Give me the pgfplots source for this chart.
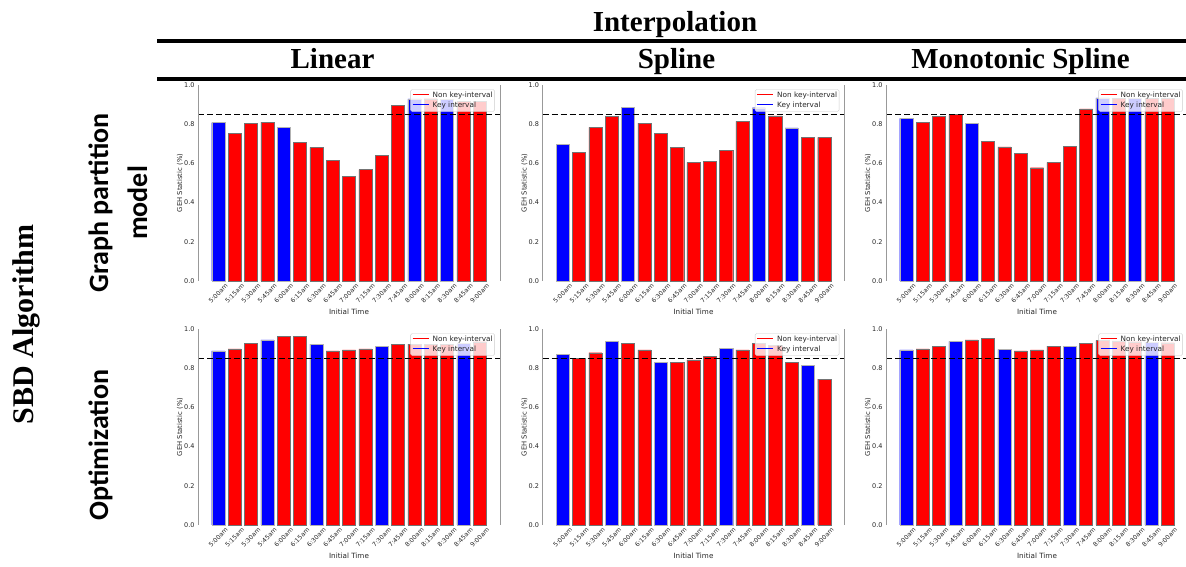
\documentclass[border=0pt]{standalone}
\usepackage{fontspec}
\setmainfont{DejaVu Sans}
\newfontfamily\timesf{Liberation Serif}
\newfontfamily\carlito{Carlito}
\usepackage{pgfplots}
\pgfplotsset{compat=1.18}

\pgfplotsset{
  panel/.style={
    scale only axis, width=302pt, height=196pt,
    xmin=-1.24, xmax=17.24, ymin=0, ymax=1,
    axis line style={draw=none},
    major tick length=0pt,
    xtick={0,1,2,3,4,5,6,7,8,9,10,11,12,13,14,15,16},
    xticklabels={5:00am,5:15am,5:30am,5:45am,6:00am,6:15am,6:30am,6:45am,7:00am,7:15am,7:30am,7:45am,8:00am,8:15am,8:30am,8:45am,9:00am},
    ytick={0,0.2,0.4,0.6,0.8,1.0},
    yticklabel style={/pgf/number format/fixed, /pgf/number format/fixed zerofill, /pgf/number format/precision=1, /pgf/number format/assume math mode=true, font=\fontsize{6.5}{7.5}\selectfont, text=black!85},
    xticklabel style={yshift=-12.5pt, rotate=45, anchor=center, font=\fontsize{6.2}{7}\selectfont, text=black!85},
    xlabel={Initial Time}, ylabel={GEH Statistic (\%)},
    xlabel style={at={(axis description cs:0.5,-0.158)}, anchor=center, font=\fontsize{7.2}{8}\selectfont, text=black!85},
    ylabel style={at={(axis description cs:-0.06,0.5)}, anchor=center, font=\fontsize{6.8}{8}\selectfont, text=black!85},
    clip=false,
  },
  redbar/.style={ybar, bar shift=0pt, bar width=0.8, fill=red, draw=black!55, line width=0.4pt, forget plot},
  bluebar/.style={ybar, bar shift=0pt, bar width=0.8, fill=blue, draw=black!30, line width=0.4pt, forget plot},
}

\newcommand{\decor}{%
  \addplot[black, line width=1.1pt, dash pattern=on 6pt off 3pt, forget plot] coordinates {(-1.24,0.85) (17.24,0.85)};
  \draw[black!40, line width=1pt] (rel axis cs:0,0) -- (rel axis cs:0,1);
  \draw[black!40, line width=1pt] (rel axis cs:1,0) -- (rel axis cs:1,1);
  \node[anchor=north east, draw=black!20, fill=white, fill opacity=0.8, text opacity=1, rounded corners=1.5pt, inner xsep=2pt, inner ysep=1pt, font=\fontsize{7.3}{10}\selectfont, text=black!85]
    at (rel axis cs:0.983,0.978)
    {\begin{tabular}{@{}l@{\hspace{4pt}}l@{}}
      \textcolor{red}{\rule[0.28em]{16pt}{1.1pt}} & Non key-interval\\
      \textcolor{blue}{\rule[0.28em]{16pt}{1.1pt}} & Key interval
    \end{tabular}};
}

\begin{document}
\begin{tikzpicture}
\useasboundingbox (0pt,0pt) rectangle (1186pt,567pt);

% headers
\node[font=\timesf\bfseries\fontsize{29}{34}\selectfont, anchor=base] at (675pt,535.3pt) {Interpolation};
\draw[line width=4pt] (157pt,525.7pt) -- (1190pt,525.7pt);
\draw[line width=4pt] (157pt,488.3pt) -- (1190pt,488.3pt);
\node[font=\timesf\bfseries\fontsize{29}{34}\selectfont, anchor=base] at (332.5pt,498.7pt) {Linear};
\node[font=\timesf\bfseries\fontsize{29}{34}\selectfont, anchor=base] at (676.5pt,498.7pt) {Spline};
\node[font=\timesf\bfseries\fontsize{29}{34}\selectfont, anchor=base] at (1020.5pt,498.7pt) {Monotonic Spline};

% left labels
\node[font=\timesf\bfseries\fontsize{30}{34}\selectfont, anchor=base, rotate=90] at (33.5pt,242.5pt) {SBD Algorithm};
\node[font=\carlito\bfseries\fontsize{28}{32}\selectfont, anchor=base, rotate=90] at (108pt,364pt) {Graph partition};
\node[font=\carlito\bfseries\fontsize{28}{32}\selectfont, anchor=base, rotate=90] at (147pt,364pt) {model};
\node[font=\carlito\bfseries\fontsize{28}{32}\selectfont, anchor=base, rotate=90] at (108pt,122pt) {Optimization};

% ---------- Row 1: Graph partition model ----------
\begin{axis}[panel, at={(198pt,286pt)}, anchor=south west]
\addplot[redbar] coordinates {(1,0.752) (2,0.804) (3,0.810) (5,0.707) (6,0.682) (7,0.617) (8,0.534) (9,0.568) (10,0.641) (11,0.896) (13,0.930) (15,0.915) (16,0.915)};
\addplot[bluebar] coordinates {(0,0.808) (4,0.784) (12,0.929) (14,0.927)};
\decor
\end{axis}

\begin{axis}[panel, at={(542.5pt,286pt)}, anchor=south west]
\addplot[redbar] coordinates {(1,0.655) (2,0.784) (3,0.840) (5,0.806) (6,0.753) (7,0.682) (8,0.605) (9,0.611) (10,0.668) (11,0.815) (13,0.842) (15,0.733) (16,0.733)};
\addplot[bluebar] coordinates {(0,0.696) (4,0.886) (12,0.884) (14,0.781)};
\decor
\end{axis}

\begin{axis}[panel, at={(886pt,286pt)}, anchor=south west]
\addplot[redbar] coordinates {(1,0.808) (2,0.840) (3,0.850) (5,0.714) (6,0.684) (7,0.650) (8,0.578) (9,0.605) (10,0.687) (11,0.878) (13,0.932) (15,0.932) (16,0.932)};
\addplot[bluebar] coordinates {(0,0.830) (4,0.803) (12,0.934) (14,0.932)};
\decor
\end{axis}

% ---------- Row 2: Optimization ----------
\begin{axis}[panel, at={(198pt,42pt)}, anchor=south west]
\addplot[redbar] coordinates {(1,0.898) (2,0.925) (4,0.961) (5,0.961) (7,0.888) (8,0.893) (9,0.898) (11,0.920) (12,0.923) (13,0.920) (14,0.920) (16,0.935)};
\addplot[bluebar] coordinates {(0,0.888) (3,0.944) (6,0.923) (10,0.911) (15,0.925)};
\decor
\end{axis}

\begin{axis}[panel, at={(542.5pt,42pt)}, anchor=south west]
\addplot[redbar] coordinates {(1,0.850) (2,0.879) (4,0.928) (5,0.893) (7,0.830) (8,0.843) (9,0.862) (11,0.893) (12,0.928) (13,0.915) (14,0.830) (16,0.744)};
\addplot[bluebar] coordinates {(0,0.872) (3,0.937) (6,0.830) (10,0.901) (15,0.816)};
\decor
\end{axis}

\begin{axis}[panel, at={(886pt,42pt)}, anchor=south west]
\addplot[redbar] coordinates {(1,0.898) (2,0.910) (4,0.944) (5,0.954) (7,0.888) (8,0.893) (9,0.913) (11,0.928) (12,0.942) (13,0.940) (14,0.935) (16,0.930)};
\addplot[bluebar] coordinates {(0,0.893) (3,0.937) (6,0.896) (10,0.910) (15,0.932)};
\decor
\end{axis}
\end{tikzpicture}
\end{document}
